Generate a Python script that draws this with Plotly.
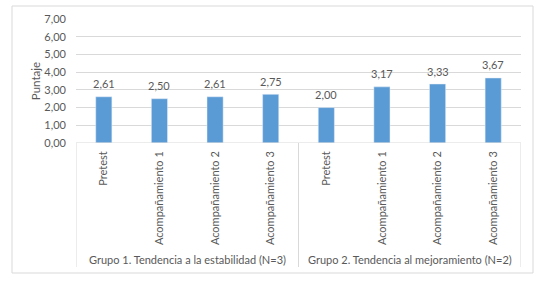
import plotly.graph_objects as go

groups = ["Grupo 1. Tendencia a la estabilidad (N=3)", "Grupo 2. Tendencia al mejoramiento (N=2)"]
categories = ["Pretest", "Acompañamiento 1", "Acompañamiento 2", "Acompañamiento 3"]
values_g1 = [2.61, 2.50, 2.61, 2.75]
values_g2 = [2.00, 3.17, 3.33, 3.67]
y_ticks = [0, 1, 2, 3, 4, 5, 6, 7]

labels = categories + categories
values = values_g1 + values_g2
xpos = list(range(len(labels)))

FONT = "Lato"
TXT = "#595959"

fig = go.Figure(go.Bar(
    x=xpos, y=values, width=0.29, marker_color="#5B9BD5",
))

L, R, T, B = 76, 23, 19, 145
W, H = 544, 288
pw, ph = W - L - R, H - T - B

fig.update_layout(
    width=W, height=H, margin=dict(l=L, r=R, t=T, b=B),
    paper_bgcolor="white", plot_bgcolor="white",
    separators=",.", showlegend=False,
    font=dict(family=FONT, color=TXT, size=10),
)
fig.update_xaxes(
    tickmode="array", tickvals=xpos, ticktext=labels, tickangle=-90,
    range=[-0.5, len(labels) - 0.5], showgrid=False, zeroline=False,
    showline=False, ticks="", automargin=False, ticklabelstandoff=5,
    tickfont=dict(size=11, color=TXT, family=FONT),
)
fig.update_yaxes(
    range=[0, 7], tickvals=y_ticks, tickformat=".2f", showgrid=True,
    gridcolor="#D9D9D9", gridwidth=1, zeroline=False, showline=False,
    ticks="", automargin=False, ticklabelstandoff=9,
    tickfont=dict(size=11, color=TXT, family=FONT),
    title=dict(text="Puntaje", font=dict(size=11.5, color=TXT, family=FONT), standoff=1),
)

for xv, v in zip(xpos, values):
    fig.add_annotation(x=xv, y=v, xref="x", yref="y", text=f"{v:.2f}".replace(".", ","),
                       showarrow=False, yanchor="middle", yshift=13,
                       font=dict(size=11, color=TXT, family=FONT))

shapes = []
shapes.append(dict(type="line", xref="paper", yref="y", x0=0, x1=1, y0=0, y1=0,
                   line=dict(color="#D9D9D9", width=1)))
n = len(categories)
for k in range(len(groups) + 1):
    xv = k * n - 0.5
    shapes.append(dict(type="line", xref="x", yref="paper", x0=xv, x1=xv,
                       y0=0, y1=-124 / ph, line=dict(color="#D9D9D9", width=1)))
shapes.append(dict(type="rect", xref="paper", yref="paper",
                   x0=(12 - L) / pw, x1=(533 - L) / pw,
                   y0=-(273 - (T + ph)) / ph, y1=(T + ph - 6) / ph,
                   line=dict(color="#D9D9D9", width=1)))
fig.update_layout(shapes=shapes)

for i, g in enumerate(groups):
    fig.add_annotation(x=i * n + (n - 1) / 2, xref="x", y=-(259 - (T + ph)) / ph, yref="paper",
                       text=g, showarrow=False, font=dict(size=11, color=TXT, family=FONT),
                       yanchor="middle")

fig.write_html("out.html", config={"displayModeBar": False},
               post_script="document.body.style.margin='0';document.body.style.overflow='hidden';")
